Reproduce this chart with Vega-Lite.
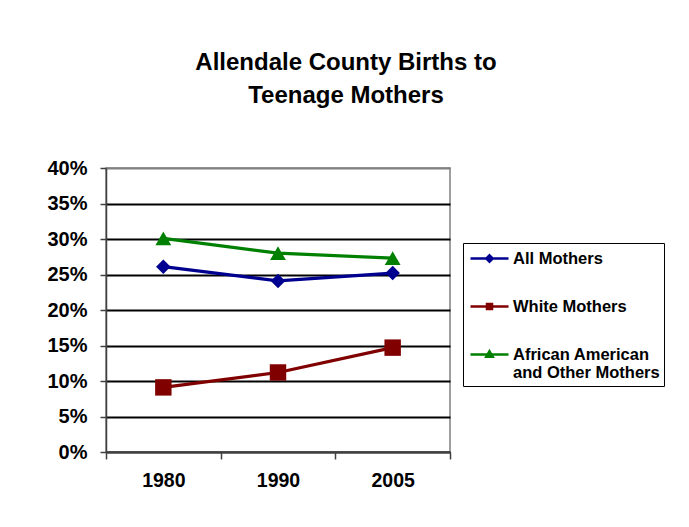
{
  "$schema": "https://vega.github.io/schema/vega-lite/v6.json",
  "width": 344,
  "height": 284,
  "autosize": {"type": "none"},
  "padding": {"left": 106, "top": 168, "right": 239, "bottom": 75},
  "background": "white",
  "title": {
    "text": ["Allendale County Births to", "Teenage Mothers"],
    "font": "Liberation Sans",
    "fontSize": 24,
    "fontWeight": "bold",
    "color": "black",
    "lineHeight": 33,
    "anchor": "middle",
    "frame": "group",
    "dx": 68,
    "offset": 50
  },
  "data": {
    "values": [
      {"year": "1980", "series": "All Mothers", "value": 0.261},
      {"year": "1990", "series": "All Mothers", "value": 0.241},
      {"year": "2005", "series": "All Mothers", "value": 0.252},
      {"year": "1980", "series": "White Mothers", "value": 0.091},
      {"year": "1990", "series": "White Mothers", "value": 0.112},
      {"year": "2005", "series": "White Mothers", "value": 0.147},
      {"year": "1980", "series": "African American and Other Mothers", "value": 0.301},
      {"year": "1990", "series": "African American and Other Mothers", "value": 0.280},
      {"year": "2005", "series": "African American and Other Mothers", "value": 0.273}
    ]
  },
  "encoding": {
    "x": {
      "field": "year", "type": "ordinal",
      "scale": {"type": "band", "paddingInner": 0, "paddingOuter": 0},
      "axis": {"title": null, "labelAngle": 0, "tickBand": "extent", "tickSize": 7, "labelPadding": 12, "labelFontSize": 19.5, "grid": false}
    },
    "y": {
      "field": "value", "type": "quantitative",
      "scale": {"domain": [0, 0.4], "nice": false},
      "axis": {
        "title": null,
        "values": [0, 0.05, 0.1, 0.15, 0.2, 0.25, 0.3, 0.35, 0.4],
        "format": ".0%",
        "grid": true,
        "gridColor": {"condition": {"test": "datum.value >= 0.4", "value": "#808080"}, "value": "black"},
        "gridWidth": 2,
        "tickSize": 6,
        "labelPadding": 13,
        "labelFontSize": 20
      }
    }
  },
  "layer": [
    {
      "transform": [{"filter": "datum.series == 'All Mothers'"}],
      "mark": {"type": "line", "strokeWidth": 3.2, "color": "#000090"}
    },
    {
      "transform": [{"filter": "datum.series == 'White Mothers'"}],
      "mark": {"type": "line", "strokeWidth": 3.2, "color": "#800000"}
    },
    {
      "transform": [{"filter": "datum.series == 'African American and Other Mothers'"}],
      "mark": {"type": "line", "strokeWidth": 3.2, "color": "#008000"}
    },
    {
      "transform": [{"filter": "datum.series == 'All Mothers'"}],
      "mark": {"type": "point", "filled": true, "opacity": 1, "shape": "diamond", "size": 210, "color": "#000090"}
    },
    {
      "transform": [{"filter": "datum.series == 'White Mothers'"}],
      "mark": {"type": "point", "filled": true, "opacity": 1, "shape": "square", "size": 270, "color": "#800000"}
    },
    {
      "transform": [{"filter": "datum.series == 'African American and Other Mothers'"}],
      "mark": {"type": "point", "filled": true, "opacity": 1, "shape": "triangle-up", "size": 250, "color": "#008000"}
    },
    {
      "transform": [{"filter": "datum.value < 0"}],
      "mark": {"type": "point", "filled": false, "strokeWidth": 2.5},
      "encoding": {
        "color": {
          "field": "series", "type": "nominal",
          "scale": {"domain": ["All Mothers", "White Mothers", "African American and Other Mothers"], "range": ["#000090", "#800000", "#008000"]},
          "legend": {
            "title": null,
            "orient": "none",
            "legendX": 357,
            "legendY": 75,
            "labelExpr": "datum.label == 'African American and Other Mothers' ? ['African American', 'and Other Mothers'] : datum.label"
          }
        },
        "shape": {
          "field": "series", "type": "nominal",
          "scale": {
            "domain": ["All Mothers", "White Mothers", "African American and Other Mothers"],
            "range": [
              "M-0.8,0H3M1.1,-0.32L1.42,0L1.1,0.32L0.78,0Z",
              "M-0.8,0H3M0.85,-0.25H1.35V0.25H0.85Z",
              "M-0.8,0H3M1.1,-0.32L1.42,0.22H0.78Z"
            ]
          },
          "legend": {
            "title": null,
            "orient": "none",
            "legendX": 357,
            "legendY": 75,
            "labelExpr": "datum.label == 'African American and Other Mothers' ? ['African American', 'and Other Mothers'] : datum.label"
          }
        }
      }
    }
  ],
  "config": {
    "view": {"stroke": "#808080", "strokeWidth": 1.5},
    "axis": {
      "labelFont": "Liberation Sans",
      "labelFontWeight": "bold",
      "labelColor": "black",
      "domainColor": "#404040",
      "domainWidth": 1.5,
      "tickColor": "#404040",
      "tickWidth": 1.5
    },
    "legend": {
      "strokeColor": "black",
      "fillColor": "white",
      "padding": 4,
      "labelFont": "Liberation Sans",
      "labelFontWeight": "bold",
      "labelFontSize": 16.5,
      "labelColor": "black",
      "labelLimit": 300,
      "rowPadding": 28,
      "symbolSize": 400,
      "symbolStrokeWidth": 2.5,
      "symbolOpacity": 1,
      "labelOffset": 23
    }
  }
}
